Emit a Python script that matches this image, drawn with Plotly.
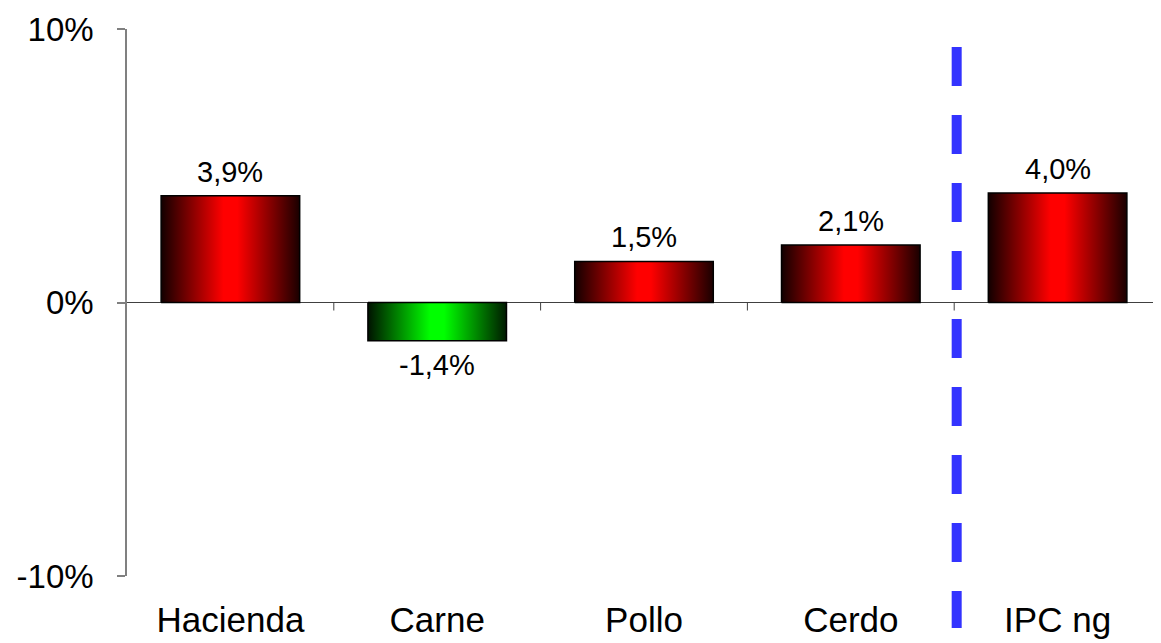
import plotly.graph_objects as go

categories = ["Hacienda", "Carne", "Pollo", "Cerdo", "IPC ng"]
values = [3.9, -1.4, 1.5, 2.1, 4.0]
y_tickvals = [-10, 0, 10]
y_ticktext = ["-10%", "0%", "10%"]
separator_after = 3  # dashed line between "Cerdo" and "IPC ng"

FONT = "Liberation Sans, Arial, sans-serif"
BAR_W = 0.67
red_scale = [[0, "#120000"], [0.45, "#ff0000"], [0.55, "#ff0000"], [1, "#1a0000"]]
green_scale = [[0, "#001200"], [0.45, "#00ff00"], [0.55, "#00ff00"], [1, "#001a00"]]

fig = go.Figure()
for i, v in enumerate(values):
    x0, x1 = i - BAR_W / 2, i + BAR_W / 2
    fig.add_trace(go.Scatter(
        x=[x0, x1, x1, x0, x0], y=[0, 0, v, v, 0],
        mode="lines", fill="toself",
        line=dict(color="#000000", width=1.5),
        fillgradient=dict(type="horizontal",
                          colorscale=red_scale if v >= 0 else green_scale),
        hoverinfo="skip", showlegend=False,
    ))
    fig.add_annotation(
        x=i, y=v, xref="x", yref="y",
        text=f"{v:.1f}%".replace(".", ","),
        showarrow=False,
        yanchor="bottom" if v >= 0 else "top",
        yshift=6 if v >= 0 else -6,
        font=dict(family=FONT, size=29, color="#000000"),
    )

# category boundary tick marks on the zero line
for b in range(1, len(categories) + 1):
    fig.add_shape(type="line", xref="x", yref="y", ysizemode="pixel", yanchor=0,
                  x0=b - 0.5, x1=b - 0.5, y0=0, y1=-8,
                  line=dict(color="#404040", width=1))

# dashed separator (drawn just right of the category boundary)
sep_x = separator_after + 0.512
fig.add_shape(type="line", xref="x", yref="paper",
              x0=sep_x, x1=sep_x, y0=0.967, y1=-0.095,
              line=dict(color="#3333ff", width=10, dash="39px,29px"))

fig.update_layout(
    width=1153, height=635,
    margin=dict(l=119, r=0, t=21, b=67),
    paper_bgcolor="white", plot_bgcolor="white",
    font=dict(family=FONT, color="#000000"),
    xaxis=dict(range=[-0.5, len(categories) - 0.5],
               tickvals=list(range(len(categories))), ticktext=categories,
               showgrid=False, zeroline=False, showline=False, ticks="",
               tickfont=dict(size=35), ticklabelstandoff=20),
    yaxis=dict(range=[-10, 10], tickvals=y_tickvals, ticktext=y_ticktext,
               showgrid=False, zeroline=True, zerolinecolor="#404040", zerolinewidth=1,
               showline=True, linecolor="#808080", linewidth=1.5,
               ticks="outside", ticklen=8, tickcolor="#808080", tickwidth=1.5,
               tickfont=dict(size=33), ticklabelstandoff=17),
)
fig.write_html("out.html")
